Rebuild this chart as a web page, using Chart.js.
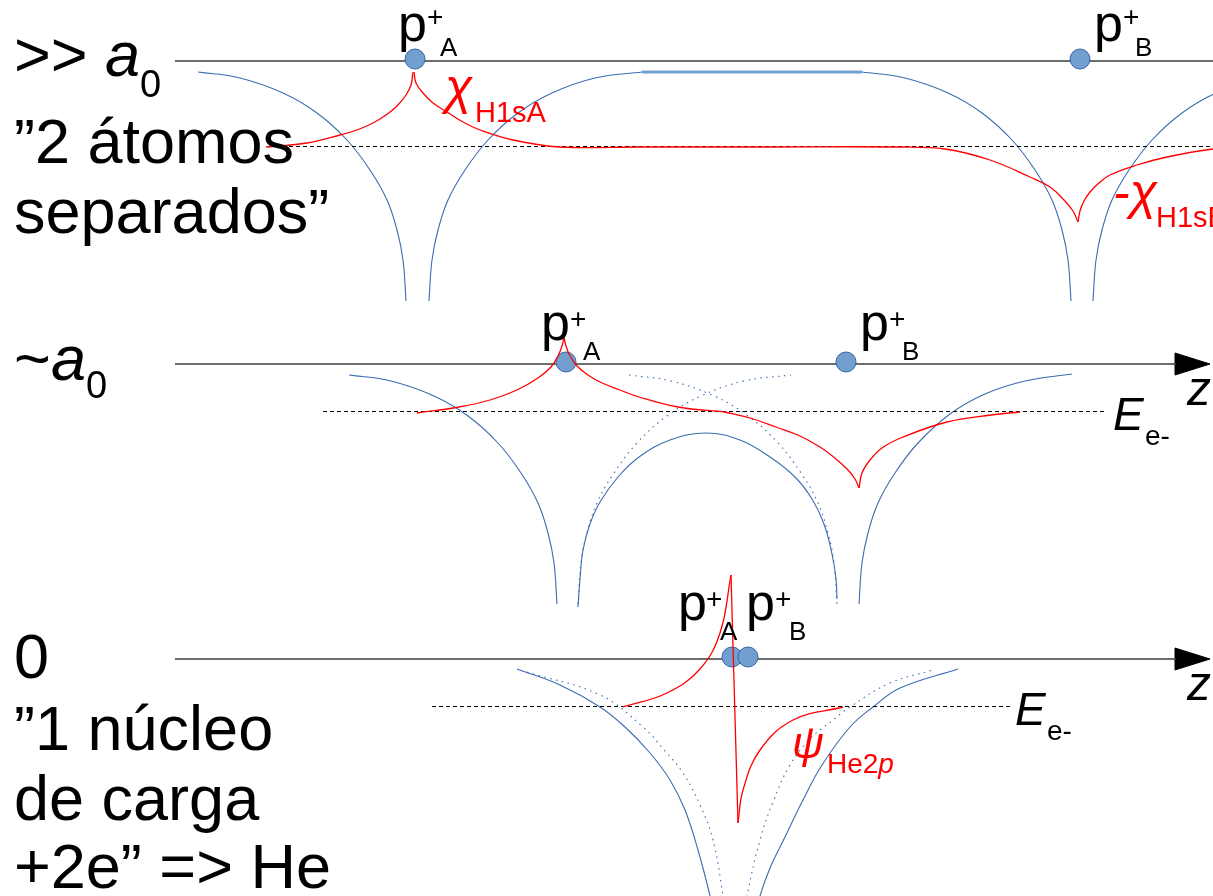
<!DOCTYPE html>
<html>
<head>
<meta charset="utf-8">
<script src="https://cdn.jsdelivr.net/npm/chart.js@4/dist/chart.umd.min.js"></script>
<style>
  html, body { margin: 0; padding: 0; background: #fff; }
  canvas { display: block; }
</style>
</head>
<body>
<canvas id="diagram" width="1213" height="896" style="width:1213px;height:896px"></canvas>
<script>
// Vertical position of the z axis of each panel (>> a0, ~a0, 0)
const PANEL_BASE = [61, 364, 659];

// ---- Panel 1: separated atoms (points are [z, E], E relative to the z axis) ----
const wellA1Left  = [[198,-11],[240,-17],[283,-32],[317,-52],[347,-79],[370,-109],[387,-139],[397,-169],[403,-199],[406,-240]];
const wellA1Right = [[429,-240],[432,-199],[438,-169],[448,-139],[465,-109],[488,-79],[518,-52],[552,-32],[595,-17],[642,-11]];
const plateau1    = [[642,-11],[862,-11]];
const wellB1Left  = [[862,-11],[905,-17],[948,-32],[982,-52],[1012,-79],[1035,-109],[1052,-139],[1062,-169],[1068,-199],[1071,-240]];
const wellB1Right = [[1093,-240],[1096,-199],[1102,-169],[1112,-139],[1129,-109],[1152,-79],[1182,-52],[1216,-32],[1259,-17]];
const chiA1Left   = [[266,-86],[307,-82],[340,-74],[357,-69],[373,-62],[386,-54],[397,-45],[406,-34],[411,-24],[413,-11]];
const chiA1Right  = [[414,-11],[416,-22],[423,-32],[433,-42],[447,-51],[463,-61],[480,-69],[513,-79],[560,-86],[640,-86],[760,-86]];
const chiB1Left   = [[760,-86],[900,-86],[945,-88],[990,-99],[1030,-116],[1050,-126],[1064,-139],[1073,-150],[1078,-161]];
const chiB1Right  = [[1078,-161],[1080,-150],[1084,-140],[1090,-131],[1099,-122],[1110,-114],[1137,-104],[1167,-96],[1213,-88],[1260,-84]];
const level1      = [[268,-85.5],[1213,-85.5]];
const protons1    = [[415,2],[1080,2]];

// ---- Panel 2: distance ~ a0 ----
const wellA2Left  = [[349,-11],[391,-17],[434,-32],[468,-52],[498,-79],[521,-109],[538,-139],[548,-169],[554,-199],[557,-240]];
const barrier2    = [[578,-243],[580,-215],[583,-186],[590,-160],[600,-138],[618,-113],[639,-93],[670,-76],[706,-69],[740,-76],[770,-93],[795,-113],[812,-135],[824,-160],[832,-190],[836,-215],[837,-235]];
const wellB2Right = [[859,-240],[862,-199],[868,-169],[878,-139],[895,-109],[918,-79],[950,-50],[985,-30],[1025,-17],[1072,-10]];
const soloA2      = [[578,-240],[581,-199],[587,-169],[597,-139],[614,-109],[637,-79],[667,-52],[701,-32],[744,-17],[791,-11]];
const soloB2      = [[629,-11],[671,-17],[714,-32],[748,-52],[778,-79],[801,-109],[818,-139],[828,-169],[834,-199],[837,-240]];
const chiA2Left   = [[417,-49],[459,-43],[490,-36],[517,-26],[538,-14],[551,-3],[558,8],[562,18],[564,27]];
const chiA2Right  = [[564,27],[566,18],[570,8],[577,-2],[588,-11],[600,-18],[620,-26],[639,-33],[678,-43],[725,-48]];
const chiB2Left   = [[725,-48],[750,-54],[776,-63],[800,-72],[820,-83],[836,-95],[848,-106],[855,-115],[859,-124]];
const chiB2Right  = [[859,-124],[862,-109],[870,-96],[882,-84],[903,-73],[947,-58],[991,-51],[1020,-48]];
const level2      = [[323,-47.5],[1105,-47.5]];
const protons2    = [[566,2],[846,2]];

// ---- Panel 3: united atom (He) ----
const well3Left   = [[517,-10],[560,-26],[600,-48],[625,-68],[650,-94],[670,-121],[685,-151],[698,-191],[710,-237],[712,-250]];
const well3Right  = [[758,-250],[760,-237],[770,-209],[785,-178],[803,-141],[822,-106],[850,-68],[873,-48],[900,-29],[958,-10]];
const solo3Left   = [[527,-13],[600,-36],[643,-68],[665,-92],[683,-114],[700,-146],[713,-181],[723,-237],[724,-250]];
const solo3Right  = [[746,-250],[747,-237],[760,-181],[773,-143],[790,-106],[810,-80],[833,-61],[850,-48],[890,-24],[933,-11]];
const psiLeft     = [[623,-48],[667,-34],[700,-10],[720,26],[731,84]];
const psiNode     = [[731,84],[738,-164]];
const psiRight    = [[738,-164],[743,-131],[760,-91],[793,-61],[843,-48]];
const level3      = [[432,-47.5],[1010,-47.5]];
const protons3    = [[732,2],[748,2]];

// z axes: start, end of the line and the arrow head
const axisStart = 175;
const axisEnd   = [1213, 1176, 1176];
const arrowHead = [[1175,11],[1210,0],[1175,-11],[1175,11]];

// ---- text ----
const FONT = '"Liberation Sans", Arial, sans-serif';
const BLACK = '#000000', RED = '#ff0000';
const BLUE = '#3b6cb2', BLUE_FILL = '#729fcf', BLUE_EDGE = '#3465a4';

// [text, z, vertical position, font, colour]; z === null continues after the previous piece
const labels = [
  ['>>', 14, 76, '63px', BLACK], ['a', 105, 76, 'italic 63px', BLACK], ['0', 140, 97, '38px', BLACK],
  ['\u201d2 átomos', 14, 163, '63px', BLACK],
  ['separados\u201d', 14, 233, '63px', BLACK],
  ['p', 398, 41, '52px', BLACK], ['+', 427, 26, '28px', BLACK], ['A', 440, 56, '26px', BLACK],
  ['p', 1094, 41, '52px', BLACK], ['+', 1123, 26, '28px', BLACK], ['B', 1135, 56, '26px', BLACK],
  ['\u03c7', 445, 104, 'italic 50px', RED], ['H1sA', 475, 122, '29px', RED],
  ['-\u03c7', 1113, 209, 'italic 50px', RED], ['H1sB', 1156, 227, '29px', RED],

  ['~', 14, 380, '63px', BLACK], ['a', 51, 380, 'italic 63px', BLACK], ['0', 86, 398, '38px', BLACK],
  ['p', 541, 340, '52px', BLACK], ['+', 570, 328, '28px', BLACK], ['A', 583, 360, '26px', BLACK],
  ['p', 860, 340, '52px', BLACK], ['+', 889, 328, '28px', BLACK], ['B', 902, 360, '26px', BLACK],
  ['z', 1187, 405, 'italic 48px', BLACK],
  ['E', 1113, 430, 'italic 46px', BLACK], ['e-', 1145, 445, '28px', BLACK],

  ['0', 14, 678, '63px', BLACK],
  ['\u201d1 núcleo', 14, 750, '63px', BLACK],
  ['de carga', 14, 820, '63px', BLACK],
  ['+2e\u201d => He', 14, 888, '63px', BLACK],
  ['p', 678, 620, '52px', BLACK], ['+', 706, 608, '28px', BLACK], ['A', 720, 640, '26px', BLACK],
  ['p', 746, 620, '52px', BLACK], ['+', 775, 608, '28px', BLACK], ['B', 789, 640, '26px', BLACK],
  ['z', 1187, 700, 'italic 48px', BLACK],
  ['E', 1015, 725, 'italic 46px', BLACK], ['e-', 1047, 740, '28px', BLACK],
  ['\u03c8', 792, 758, 'italic 44px', RED], ['He2', 827, 773, '28px', RED], ['p', null, 773, 'italic 28px', RED]
];

// ---- datasets ----
const toPoints = (panel, arr) => arr.map(([z, e]) => ({ x: z, y: PANEL_BASE[panel] - e }));

function curve(panel, arr, color, width, extra) {
  return Object.assign({
    data: toPoints(panel, arr),
    showLine: true,
    borderColor: color,
    borderWidth: width,
    pointRadius: 0,
    fill: false,
    tension: 0.4
  }, extra || {});
}
const straight = { tension: 0 };
const dashed = { borderDash: [4, 3], tension: 0 };
const dotted = { borderDash: [1.5, 4.5] };

function protons(panel, arr) {
  return {
    data: toPoints(panel, arr),
    showLine: false,
    pointRadius: 10,
    pointBackgroundColor: BLUE_FILL,
    pointBorderColor: BLUE_EDGE,
    pointBorderWidth: 1
  };
}
function axis(panel) {
  return curve(panel, [[axisStart, 0], [axisEnd[panel], 0]], '#3c3c3c', 1.5, straight);
}
function arrow(panel) {
  return curve(panel, arrowHead, '#000', 1, { fill: 'shape', backgroundColor: '#000', tension: 0 });
}

const datasets = [
  // wave functions (topmost)
  curve(0, chiA1Left, RED, 1.3), curve(0, chiA1Right, RED, 1.3),
  curve(0, chiB1Left, RED, 1.3), curve(0, chiB1Right, RED, 1.3),
  curve(1, chiA2Left, RED, 1.3), curve(1, chiA2Right, RED, 1.3),
  curve(1, chiB2Left, RED, 1.3), curve(1, chiB2Right, RED, 1.3),
  curve(2, psiLeft, RED, 1.3), curve(2, psiNode, RED, 1.3, straight), curve(2, psiRight, RED, 1.3),
  // nuclei
  protons(0, protons1), protons(1, protons2), protons(2, protons3),
  // energy levels
  curve(0, level1, '#000', 1, dashed), curve(1, level2, '#000', 1, dashed), curve(2, level3, '#000', 1, dashed),
  // potentials
  curve(0, wellA1Left, BLUE, 1.1), curve(0, wellA1Right, BLUE, 1.1),
  curve(0, plateau1, BLUE_FILL, 3.2, straight),
  curve(0, wellB1Left, BLUE, 1.1), curve(0, wellB1Right, BLUE, 1.1),
  curve(1, wellA2Left, BLUE, 1.1), curve(1, barrier2, BLUE, 1.1), curve(1, wellB2Right, BLUE, 1.1),
  curve(1, soloA2, BLUE, 1.1, dotted), curve(1, soloB2, BLUE, 1.1, dotted),
  curve(2, well3Left, BLUE, 1.1), curve(2, well3Right, BLUE, 1.1),
  curve(2, solo3Left, BLUE, 1.1, dotted), curve(2, solo3Right, BLUE, 1.1, dotted),
  // z axes
  axis(0), axis(1), axis(2), arrow(1), arrow(2)
];

const textPlugin = {
  id: 'diagramText',
  afterDatasetsDraw(chart) {
    const { ctx, scales } = chart;
    ctx.save();
    ctx.textAlign = 'left';
    ctx.textBaseline = 'alphabetic';
    let lastEnd = 0;
    for (const [text, z, v, font, color] of labels) {
      ctx.font = font + ' ' + FONT;
      ctx.fillStyle = color;
      const px = z === null ? lastEnd : scales.x.getPixelForValue(z);
      const py = scales.y.getPixelForValue(v);
      ctx.fillText(text, px, py);
      lastEnd = px + ctx.measureText(text).width;
    }
    ctx.restore();
  }
};

new Chart(document.getElementById('diagram'), {
  type: 'scatter',
  data: { datasets },
  options: {
    responsive: false,
    animation: false,
    events: [],
    layout: { padding: 0, autoPadding: false },
    plugins: { legend: { display: false }, tooltip: { enabled: false } },
    scales: {
      x: { type: 'linear', min: 0, max: 1213, display: false },
      y: { type: 'linear', min: 0, max: 896, reverse: true, display: false }
    }
  },
  plugins: [textPlugin]
});
</script>
</body>
</html>
